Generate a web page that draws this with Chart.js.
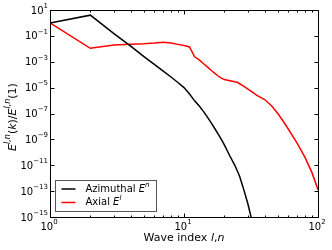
<!DOCTYPE html>
<html>
<head>
<meta charset="utf-8">
<script src="https://cdn.jsdelivr.net/npm/chart.js@4/dist/chart.umd.min.js"></script>
<style>html,body{margin:0;padding:0;background:#fff}</style>
</head>
<body>
<canvas id="chart" width="332" height="250"></canvas>
<script>
// values (log-log, normalised by k = 1)
const waveAzimuthal = [1, 2, 3, 4, 5, 6, 7, 8, 9, 10, 11, 12, 13, 14, 15, 16, 17, 18, 19, 20, 22, 24, 26, 28, 30, 32];
const energyAzimuthal = [1, 4, 0.15, 1.6e-2, 2.6e-3, 6.3e-4, 1.9e-4, 6.6e-5, 2.5e-5, 1e-5, 3.2e-6, 9.5e-7, 3.8e-7,
  1.4e-7, 5e-8, 1.8e-8, 6.6e-9, 2.5e-9, 1e-9, 3.8e-10, 5.2e-11, 9.5e-12, 1.4e-12, 1.2e-13, 1e-14, 6.3e-16];

const waveAxial = [1, 2, 3, 4, 5, 6, 7, 8, 9, 10, 11, 12, 13, 14, 15, 16, 17, 18, 19, 20, 22, 25, 28, 31, 35,
  40, 45, 50, 55, 60, 70, 80, 90, 100];
const energyAxial = [1, 1.1e-2, 2e-2, 2.3e-2, 2.5e-2, 2.8e-2, 3.2e-2, 2.8e-2, 2.2e-2, 1.8e-2, 1.4e-2, 2.4e-3,
  1.4e-3, 7e-4, 3.8e-4, 2.1e-4, 1.26e-4, 7.9e-5, 5.4e-5, 4.2e-5, 3.4e-5, 2.6e-5, 1.26e-5, 6.2e-6, 2.5e-6, 1.2e-6,
  4e-7, 1.05e-7, 2.5e-8, 6.3e-9, 5e-10, 4e-11, 2.8e-12, 1.26e-13];

const xMajorTicks = [1, 10, 100];
const xTickLabels = ['0', '1', '2'];
const xMinorTicks = [2, 3, 4, 5, 6, 7, 8, 9, 20, 30, 40, 50, 60, 70, 80, 90];
const yTicks = [1e1, 1e-1, 1e-3, 1e-5, 1e-7, 1e-9, 1e-11, 1e-13, 1e-15];
const yTickLabels = ['1', '\u22121', '\u22123', '\u22125', '\u22127', '\u22129', '\u221211', '\u221213', '\u221215'];

const FONT = '"DejaVu Sans", sans-serif';

function drawRuns(ctx, runs, x, y) {
  // runs: [text, size, italic, raise]
  for (const [t, size, it, raise] of runs) {
    ctx.font = (it ? 'italic ' : '') + size + 'px ' + FONT;
    ctx.fillText(t, x, y - (raise || 0));
    x += ctx.measureText(t).width;
  }
  return x;
}

function runsWidth(ctx, runs) {
  let w = 0;
  for (const [t, size, it] of runs) {
    ctx.font = (it ? 'italic ' : '') + size + 'px ' + FONT;
    w += ctx.measureText(t).width;
  }
  return w;
}

function powRuns(exp) {
  return [['10', 10, false, 0], [exp, 7, false, 5]];
}

const decorations = {
  id: 'decorations',
  afterDatasetsDraw(chart) {
    const { ctx, chartArea: a, scales: { x, y } } = chart;
    const L = Math.round(a.left) + 0.5, R = Math.round(a.right) + 0.5;
    const T = Math.round(a.top) + 0.5, B = Math.round(a.bottom) + 0.5;
    ctx.save();
    ctx.strokeStyle = '#000';
    ctx.lineWidth = 1;
    ctx.strokeRect(L, T, R - L, B - T);

    ctx.beginPath();
    const xt = (v, len) => {
      const p = Math.round(x.getPixelForValue(v)) + 0.5;
      ctx.moveTo(p, B); ctx.lineTo(p, B - len);
      ctx.moveTo(p, T); ctx.lineTo(p, T + len);
    };
    xMajorTicks.forEach(v => xt(v, 4));
    xMinorTicks.forEach(v => xt(v, 2));
    yTicks.forEach(v => {
      const p = Math.round(y.getPixelForValue(v)) + 0.5;
      ctx.moveTo(L, p); ctx.lineTo(L + 4, p);
      ctx.moveTo(R, p); ctx.lineTo(R - 4, p);
    });
    ctx.stroke();

    // tick labels
    ctx.fillStyle = '#000';
    ctx.textBaseline = 'middle';
    ctx.textAlign = 'left';
    yTicks.forEach((v, i) => {
      const runs = powRuns(yTickLabels[i]);
      const p = y.getPixelForValue(v);
      drawRuns(ctx, runs, a.left - 2 - runsWidth(ctx, runs), p + 1);
    });
    xMajorTicks.forEach((v, i) => {
      const runs = powRuns(xTickLabels[i]);
      const p = x.getPixelForValue(v);
      drawRuns(ctx, runs, p - 1 - runsWidth(ctx, runs) / 2, a.bottom + 10);
    });

    // x title
    const xTitle = [['Wave index ', 11, false], ['l', 11, true], [',', 11, false], ['n', 11, true]];
    drawRuns(ctx, xTitle, (a.left + a.right) / 2 - runsWidth(ctx, xTitle) / 2, 238);

    // y title
    const yTitle = [['E', 11, true], ['l,n', 8, true, 5], ['(', 11, false], ['k', 11, true], [')/', 11, false],
      ['E', 11, true], ['l,n', 8, true, 5], ['(1)', 11, false]];
    ctx.save();
    ctx.translate(13, 117);
    ctx.rotate(-Math.PI / 2);
    drawRuns(ctx, yTitle, -runsWidth(ctx, yTitle) / 2, 0);
    ctx.restore();

    // legend, lower left inside the axes
    const bx = Math.round(a.left) + 5.5, by = Math.round(a.bottom) - 36.5;
    ctx.fillStyle = '#fff';
    ctx.fillRect(bx, by, 101, 31);
    ctx.strokeStyle = '#555';
    ctx.strokeRect(bx, by, 101, 31);
    const sups = ['n', 'l'];
    chart.data.datasets.forEach((ds, i) => {
      const ry = by + 8.5 + i * 13.5;
      ctx.strokeStyle = ds.borderColor;
      ctx.lineWidth = 1.5;
      ctx.beginPath();
      ctx.moveTo(bx + 6, ry); ctx.lineTo(bx + 20, ry);
      ctx.stroke();
      ctx.fillStyle = '#000';
      drawRuns(ctx, [[ds.label + ' ', 10, false], ['E', 10, true], [sups[i], 7, true, 4]], bx + 30, ry);
    });
    ctx.restore();
  }
};

new Chart(document.getElementById('chart'), {
  type: 'line',
  data: {
    datasets: [
      {
        label: 'Azimuthal',
        data: waveAzimuthal.map((w, i) => ({ x: w, y: energyAzimuthal[i] })),
        borderColor: '#000',
        borderWidth: 1.5,
        pointRadius: 0,
        tension: 0,
      },
      {
        label: 'Axial',
        data: waveAxial.map((w, i) => ({ x: w, y: energyAxial[i] })),
        borderColor: '#ff0000',
        borderWidth: 1.5,
        pointRadius: 0,
        tension: 0,
      }
    ]
  },
  options: {
    responsive: false,
    animation: false,
    devicePixelRatio: 1,
    layout: { padding: { top: 10, right: 14, left: 0, bottom: 0 } },
    plugins: { legend: { display: false }, tooltip: { enabled: false } },
    scales: {
      x: {
        type: 'logarithmic', min: 1, max: 100,
        ticks: { display: false }, grid: { display: false }, border: { display: false },
        afterFit: s => { s.height = 33; }
      },
      y: {
        type: 'logarithmic', min: 1e-15, max: 10,
        ticks: { display: false }, grid: { display: false }, border: { display: false },
        afterFit: s => { s.width = 50; }
      }
    }
  },
  plugins: [decorations]
});
</script>
</body>
</html>
